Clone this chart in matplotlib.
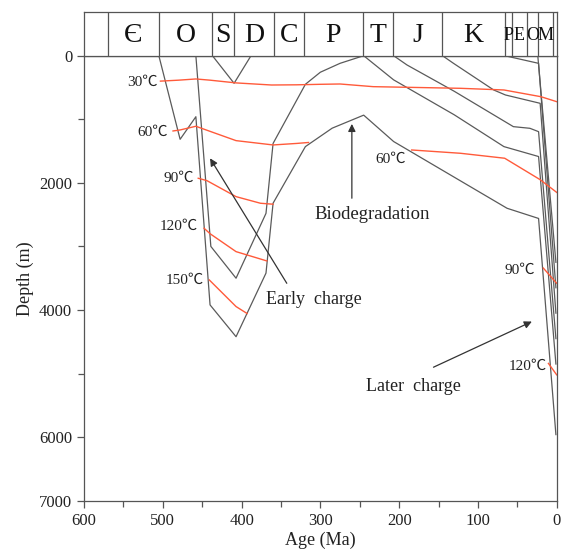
import matplotlib.pyplot as plt

plt.rcParams['font.family'] = ['Liberation Serif', 'Noto Sans CJK SC', 'DejaVu Sans']

# geologic time scale (Ma) shown in the band above the plot
period_edges = [570, 505, 437, 410, 359, 321, 246, 208, 145, 66, 57, 38, 24, 5]
period_names = ['Є', 'O', 'S', 'D', 'C', 'P', 'T', 'J', 'K', 'P', 'E', 'O', 'M']

# burial history curves (age Ma, depth m)
h1_age = [505, 478, 458, 440, 407, 369, 360, 319, 285, 245, 207, 63, 23, 1]
h1_depth = [0, 1315, 960, 3920, 4420, 3420, 2320, 1430, 1140, 935, 1350, 2400, 2560, 5960]
h2_age = [458, 439, 407, 369, 360, 319, 300, 275, 245]
h2_depth = [0, 3000, 3500, 2480, 1380, 450, 260, 120, 0]
h3_age = [437, 409.5, 388]
h3_depth = [0, 434, 0]
t_age = [245, 207, 130, 67, 23, 1]
t_depth = [0, 380, 930, 1430, 1586, 4850]
j_age = [207, 190, 130, 55, 34, 23, 1]
j_depth = [0, 146, 560, 1116, 1142, 1195, 4450]
k_age = [145, 131, 80, 65, 21, 1]
k_depth = [0, 120, 539, 618, 749, 4050]
pg_age = [66, 23, 1]
pg_depth = [0, 120, 3650]
ng_age = [24, 1]
ng_depth = [0, 3250]

# isotherms
iso30_age = [503, 480, 458, 440, 407, 362, 330, 300, 275, 233, 190, 122, 67, 20, 0]
iso30_depth = [400, 385, 366, 385, 428, 461, 458, 450, 445, 487, 497, 513, 539, 645, 723]
iso60a_age = [487, 478, 458, 440, 407, 360, 330, 315]
iso60a_depth = [1184, 1168, 1110, 1190, 1336, 1404, 1380, 1365]
iso60b_age = [184, 122, 66, 21, 0]
iso60b_depth = [1483, 1535, 1613, 1950, 2150]
iso90a_age = [455, 444, 407, 376, 360]
iso90a_depth = [1928, 1965, 2217, 2321, 2336]
iso90b_age = [17, 0]
iso90b_depth = [3340, 3580]
iso120a_age = [447.6, 440, 407, 368]
iso120a_depth = [2714, 2800, 3082, 3228]
iso120b_age = [10.5, 0]
iso120b_depth = [4840, 5020]
iso150_age = [441, 407, 393]
iso150_depth = [3527, 3946, 4055]

grey = '#5a5a5a'
red = '#ff5a3a'

fig = plt.figure(figsize=(5.63, 5.52), dpi=100)
ax = fig.add_axes([0.1492, 0.0929, 0.8396, 0.8062])
band = fig.add_axes([0.1492, 0.8991, 0.8396, 0.0792])

# burial curves
for a, d in [(h1_age, h1_depth), (h2_age, h2_depth), (h3_age, h3_depth),
             (t_age, t_depth), (j_age, j_depth), (k_age, k_depth),
             (pg_age, pg_depth), (ng_age, ng_depth)]:
    ax.plot(a, d, color=grey, lw=0.9)

# isotherms
for a, d in [(iso30_age, iso30_depth), (iso60a_age, iso60a_depth), (iso60b_age, iso60b_depth),
             (iso90a_age, iso90a_depth), (iso90b_age, iso90b_depth),
             (iso120a_age, iso120a_depth), (iso120b_age, iso120b_depth),
             (iso150_age, iso150_depth)]:
    ax.plot(a, d, color=red, lw=1.0)

# temperature labels
tl = dict(fontsize=11, va='center', color='#222222')
ax.text(507, 424, '30℃', ha='right', **tl)
ax.text(493, 1210, '60℃', ha='right', **tl)
ax.text(461, 1928, '90℃', ha='right', **tl)
ax.text(455, 2689, '120℃', ha='right', **tl)
ax.text(448.5, 3527, '150℃', ha='right', **tl)
ax.text(211, 1629, '60℃', ha='center', **tl)
ax.text(27.3, 3370, '90℃', ha='right', **tl)
ax.text(12.5, 4890, '120℃', ha='right', **tl)

# annotations
arr = dict(arrowstyle='-|>', color='#333333', lw=0.9, mutation_scale=11, shrinkA=0, shrinkB=0)
ax.annotate('', xy=(260, 1073), xytext=(260, 2242), arrowprops=arr)
ax.text(234.6, 2494, 'Biodegradation', fontsize=13.5, ha='center', va='center', color='#222222')
ax.annotate('', xy=(440, 1614), xytext=(342.6, 3580), arrowprops=arr)
ax.text(308, 3841, 'Early  charge', fontsize=13, ha='center', va='center', color='#222222')
ax.annotate('', xy=(31.5, 4182), xytext=(156.4, 4900), arrowprops=arr)
ax.text(181.5, 5210, 'Later  charge', fontsize=13, ha='center', va='center', color='#222222')

ax.set_xlim(600, 0)
ax.set_ylim(7000, 0)
ax.set_xticks(range(0, 601, 100))
ax.set_xticks(range(50, 600, 100), minor=True)
ax.set_yticks([0, 2000, 4000, 6000, 7000])
ax.set_yticks([1000, 3000, 5000], minor=True)
ax.tick_params(which='major', direction='out', length=5, width=0.9, color='#555555',
               labelsize=12, labelcolor='#222222')
ax.tick_params(which='minor', direction='out', length=4, width=0.9, color='#555555')
for s in ax.spines.values():
    s.set_color('#555555')
    s.set_linewidth(0.9)
ax.set_xlabel('Age (Ma)', fontsize=13, labelpad=2, color='#222222')
ax.set_ylabel('Depth (m)', fontsize=13, labelpad=4, color='#222222')

# period band
band.set_xlim(600, 0)
band.set_ylim(0, 1)
band.set_xticks([])
band.set_yticks([])
for s in band.spines.values():
    s.set_color('#555555')
    s.set_linewidth(0.9)
for e in period_edges:
    band.axvline(e, color='#555555', lw=0.9)
for i, name in enumerate(period_names):
    mid = (period_edges[i] + period_edges[i + 1]) / 2
    size = 20 if i < 9 else 13
    band.text(mid, 0.47, name, fontsize=size, ha='center', va='center', color='#111111')

fig.savefig('out.png', dpi=100)
